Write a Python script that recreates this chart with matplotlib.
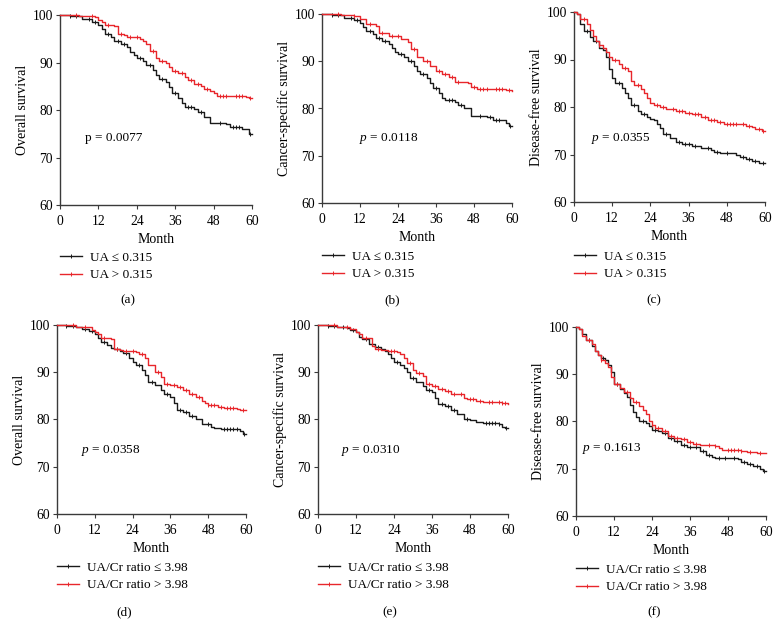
import numpy as np
import matplotlib
matplotlib.use("Agg")
import matplotlib.pyplot as plt
from matplotlib.lines import Line2D

plt.rcParams['font.family'] = ['Liberation Serif', 'DejaVu Serif']
plt.rcParams['mathtext.fontset'] = 'custom'
plt.rcParams['mathtext.it'] = 'Liberation Serif:italic'
plt.rcParams['mathtext.rm'] = 'Liberation Serif'

BLACK = '#1a1a1a'
RED = '#e8262b'

# ---------------- data (months, survival %) ----------------
# (a) Overall survival, UA
a_low_t = [0, 3, 7, 10, 12, 13, 14, 16, 17, 19, 21, 22, 23, 24, 26, 27, 29, 30, 31, 33, 34, 35, 37, 38, 39, 42, 43, 45, 47, 52, 53, 57, 59]
a_low_s = [100, 99.8, 99.2, 98.5, 98, 97, 96, 95.3, 94.5, 93.8, 93.2, 92.3, 91.5, 91, 90.3, 89.5, 88.5, 87.3, 86.5, 85.8, 84.8, 83.5, 82.5, 81.5, 80.6, 80.2, 79.6, 78.5, 77.3, 77, 76.5, 76, 75]
a_low_c = [3, 5, 9, 11, 15, 18, 20, 25, 28, 32, 36, 40, 41, 44, 50, 54, 55, 56, 59.5]
a_high_t = [0, 6, 11, 12, 13, 14, 17, 18, 20, 21, 25, 26, 27, 28, 30, 31, 33, 34, 35, 37, 39, 40, 42, 44, 45, 47, 48, 49, 58, 59]
a_high_s = [100, 99.7, 99.5, 99, 98.5, 97.8, 97.6, 96, 95.7, 95.3, 95, 94.5, 94, 92.5, 91, 90.4, 89.8, 89, 88.3, 87.8, 87, 86.3, 85.5, 85, 84.5, 84, 83.5, 83, 82.8, 82.5]
a_high_c = [5, 10, 15, 19, 22, 24, 29, 32, 36, 38, 41, 43, 46, 50, 51, 52, 55, 56, 57, 59.5]

# (b) Cancer-specific survival, UA
b_low_t = [0, 3, 7, 10, 12, 13, 14, 16, 17, 19, 21, 22, 23, 24, 26, 27, 29, 30, 31, 33, 34, 35, 37, 38, 39, 42, 43, 45, 47, 52, 54, 58, 59]
b_low_s = [100, 99.8, 99.2, 98.7, 98.2, 97.3, 96.5, 95.7, 95, 94.3, 93.7, 92.8, 92, 91.5, 90.8, 90, 89, 88, 87.3, 86.5, 85.5, 84.3, 83.2, 82.3, 81.7, 81.4, 80.8, 80, 78.5, 78.2, 77.6, 77, 76.3]
b_low_c = [3, 5, 9, 11, 15, 18, 20, 25, 28, 32, 36, 40, 41, 44, 50, 53, 55, 56, 59.5]
b_high_t = [0, 6, 10, 12, 14, 17, 18, 21, 25, 27, 28, 30, 32, 34, 36, 38, 40, 42, 46, 47, 49, 58, 60]
b_high_s = [100, 99.7, 99.5, 99, 97.8, 97.5, 96, 95.3, 94.8, 94, 92.5, 91, 90, 89, 88, 87.4, 86.6, 85.6, 85.3, 84.5, 84.2, 84, 83.8]
b_high_c = [5, 10, 15, 19, 22, 24, 29, 33, 37, 39, 41, 43, 48, 50, 51, 52, 55, 56, 57, 59]

# (c) Disease-free survival, UA
c_low_t = [0, 1, 2, 3, 5, 6, 8, 9, 10, 11, 12, 13, 15, 16, 17, 18, 20, 21, 23, 24, 25, 26, 27, 28, 30, 32, 34, 37, 40, 43, 44, 46, 51, 52, 54, 56, 58]
c_low_s = [100, 99.5, 97.5, 96, 94.8, 93.8, 92.5, 92, 90.5, 88, 86.2, 85, 84, 83, 82, 80.5, 79.2, 78.5, 78, 77.5, 77.2, 76.5, 75.5, 74.3, 73.5, 72.6, 72.2, 71.8, 71.3, 71, 70.6, 70.3, 70, 69.5, 69, 68.6, 68.2]
c_low_c = [4, 7, 14, 19, 22, 29, 33, 35, 36, 38, 42, 45, 48, 53, 55, 57, 59.5]
c_high_t = [0, 1, 2, 4, 5, 6, 7, 8, 9, 10, 11, 12, 14, 15, 17, 18, 19, 21, 22, 23, 24, 25, 27, 29, 32, 35, 37, 40, 42, 45, 47, 52, 54, 56, 57, 59]
c_high_s = [100, 99.5, 98.5, 97.5, 96.3, 95, 94, 93, 92.4, 91.5, 90.6, 89.8, 89, 88.3, 87.5, 85.5, 84.7, 83.8, 83, 81.8, 80.8, 80.5, 80, 79.5, 79.2, 78.8, 78.5, 78, 77.3, 76.8, 76.5, 76.4, 76, 75.7, 75.3, 75]
c_high_c = [3, 8, 13, 16, 20, 26, 28, 31, 33, 34, 36, 38, 39, 41, 43, 44, 46, 48, 49, 50, 51, 53, 55, 58, 59.5]

# (d) Overall survival, UA/Cr ratio
d_low_t = [0, 3, 6, 8, 10, 12, 13, 14, 16, 17, 18, 20, 21, 23, 24, 25, 27, 28, 29, 31, 33, 34, 36, 37, 38, 40, 42, 44, 46, 49, 50, 52, 58, 59]
d_low_s = [100, 99.8, 99.5, 99.2, 98.7, 98.2, 97.2, 96.5, 95.8, 95.2, 95, 94.5, 94, 93, 92.2, 91.5, 90.5, 89.5, 88, 87.3, 86.3, 85.5, 84.8, 83.5, 82, 81.5, 80.7, 80, 79, 78.5, 78.2, 78, 77.6, 77]
d_low_c = [3, 5, 9, 11, 15, 19, 22, 26, 30, 35, 39, 41, 43, 48, 53, 54, 55, 56, 57, 59.5]
d_high_t = [0, 6, 10, 11, 12, 13, 14, 17, 18, 20, 21, 25, 26, 28, 29, 31, 33, 34, 36, 38, 40, 42, 44, 46, 47, 48, 51, 53, 57, 58]
d_high_s = [100, 99.6, 99.5, 99, 98.6, 98, 97.3, 97, 95, 94.7, 94.5, 94.3, 93.8, 93, 91.5, 90, 89, 87.6, 87.2, 86.8, 86.2, 85.5, 84.8, 84, 83.5, 83.1, 82.7, 82.4, 82.2, 82]
d_high_c = [5, 9, 15, 19, 22, 24, 27, 32, 35, 37, 39, 41, 43, 45, 48, 49, 50, 52, 54, 55, 56, 59]

# (e) Cancer-specific survival, UA/Cr ratio
e_low_t = [0, 3, 6, 9, 10, 12, 13, 14, 16, 18, 20, 21, 22, 23, 24, 26, 27, 28, 29, 31, 33, 34, 36, 37, 38, 40, 42, 44, 46, 48, 50, 52, 57, 58, 59]
e_low_s = [100, 99.8, 99.5, 99.3, 99, 98.5, 97.5, 97, 96, 95.3, 95, 94.5, 93.8, 93, 92.2, 91.5, 91, 90, 88.7, 88, 87, 86.2, 85.8, 84.5, 83.2, 82.8, 82, 81.2, 80.2, 79.8, 79.5, 79.3, 79, 78.5, 78.2]
e_low_c = [3, 5, 8, 11, 15, 19, 25, 30, 35, 39, 41, 43, 47, 53, 54, 55, 56, 57, 59.5]
e_high_t = [0, 6, 10, 12, 13, 14, 16, 17, 18, 20, 22, 25, 26, 27, 28, 30, 31, 33, 34, 36, 38, 40, 42, 44, 46, 47, 50, 52, 56, 58, 60]
e_high_s = [100, 99.5, 99.2, 98.5, 98, 97.3, 97.2, 95.5, 95, 94.8, 94.5, 94.3, 93.8, 93, 92, 90.5, 89.8, 89.2, 87.5, 87, 86.5, 86, 85.4, 85.3, 84.5, 84.3, 84, 83.8, 83.6, 83.4, 83.2]
e_high_c = [5, 9, 15, 19, 23, 24, 29, 32, 35, 37, 39, 41, 43, 45, 48, 49, 51, 54, 55, 57, 58, 59]

# (f) Disease-free survival, UA/Cr ratio
f_low_t = [0, 1, 2, 3, 5, 6, 7, 8, 9, 10, 11, 12, 14, 15, 16, 17, 18, 19, 20, 22, 23, 24, 26, 27, 29, 31, 33, 35, 37, 39, 41, 43, 44, 49, 51, 52, 54, 56, 58, 59]
f_low_s = [100, 99.5, 98.5, 97.3, 96, 95, 94, 93.5, 93, 92, 90.5, 88, 86.8, 86, 85.2, 83.5, 82, 81, 80.2, 79.7, 79, 78.2, 78, 77.5, 76.5, 75.8, 75, 74.7, 74.5, 73.7, 73, 72.5, 72.3, 72.3, 72, 71.5, 71, 70.5, 70, 69.5]
f_low_c = [4, 8.5, 13, 21, 25, 28, 30, 32, 34, 36, 38, 40, 42, 45, 47, 50, 53, 55, 57, 59.5]
f_high_t = [0, 1, 2, 3, 5, 6, 7, 8, 9, 10, 11, 12, 14, 15, 17, 18, 20, 21, 22, 23, 24, 25, 27, 29, 31, 33, 35, 37, 39, 44, 45, 46, 52, 54, 57, 60]
f_high_s = [100, 99.5, 98.2, 97.3, 96.5, 95, 94, 93, 92.3, 91.5, 89.5, 88, 87, 86.3, 85, 84.2, 83.2, 82.5, 81.5, 80.2, 79.2, 78.7, 78, 77, 76.6, 76.2, 75.7, 75.3, 75, 74.9, 74.4, 74, 73.8, 73.6, 73.3, 73.3]
f_high_c = [4, 8, 13, 16, 19, 24, 26, 28, 30, 32, 34, 36, 38, 42, 44, 48, 49, 50, 51, 52, 55, 58]

ylabels = ['Overall survival', 'Cancer-specific survival', 'Disease-free survival',
           'Overall survival', 'Cancer-specific survival', 'Disease-free survival']
pvals = ['p = 0.0077', r'$p$ = 0.0118', r'$p$ = 0.0355',
         r'$p$ = 0.0358', r'$p$ = 0.0310', r'$p$ = 0.1613']
captions = ['(a)', '(b)', '(c)', '(d)', '(e)', '(f)']
legend_ua = ['UA ≤ 0.315', 'UA > 0.315']
legend_ratio = ['UA/Cr ratio ≤ 3.98', 'UA/Cr ratio > 3.98']
xticks = [0, 12, 24, 36, 48, 60]
yticks = [60, 70, 80, 90, 100]

curves = [
    ((a_low_t, a_low_s, a_low_c), (a_high_t, a_high_s, a_high_c)),
    ((b_low_t, b_low_s, b_low_c), (b_high_t, b_high_s, b_high_c)),
    ((c_low_t, c_low_s, c_low_c), (c_high_t, c_high_s, c_high_c)),
    ((d_low_t, d_low_s, d_low_c), (d_high_t, d_high_s, d_high_c)),
    ((e_low_t, e_low_s, e_low_c), (e_high_t, e_high_s, e_high_c)),
    ((f_low_t, f_low_s, f_low_c), (f_high_t, f_high_s, f_high_c)),
]

# ---------------- layout (pixels) ----------------
W, H = 782, 638
fig = plt.figure(figsize=(W / 100, H / 100), dpi=100)

# (left, right, top, bottom) in pixels
boxes = [
    (60, 252, 15, 205),
    (322, 512, 14, 203),
    (574, 765, 12, 202),
    (57, 246, 325, 514),
    (318, 508, 325, 514),
    (576, 766, 327, 516),
]
pv_pos = [(85, 138), (359, 138), (591, 138), (81, 451), (341, 451), (582, 448)]
leg_pos = [(60, 258), (322, 257), (574, 257), (57, 568), (318, 568), (576, 570)]
cap_pos = [(128, 300), (392, 300), (654, 300), (124, 612), (390, 612), (654, 612)]

SPINE = '#3a3a3a'
TICK_FS = 9.8
LAB_FS = 10
TXT_FS = 9

def km(ax, t, s, c, color):
    t = np.asarray(t, float)
    s = np.asarray(s, float)
    tt = np.append(t, 60 if t[-1] < 60 else t[-1])
    ss = np.append(s, s[-1])
    ax.step(tt, ss, where='post', color=color, lw=1.0, clip_on=False, zorder=3)
    c = np.asarray(c, float)
    idx = np.searchsorted(t, c, side='right') - 1
    ax.plot(c, s[idx], ls='none', marker='|', ms=3.2, mew=0.7, color=color, clip_on=False, zorder=3)

for i, (box, (low, high)) in enumerate(zip(boxes, curves)):
    l, r, t, b = box
    ax = fig.add_axes([l / W, 1 - b / H, (r - l) / W, (b - t) / H])
    km(ax, *low, BLACK)
    km(ax, *high, RED)
    ax.set_xlim(0, 60)
    ax.set_ylim(60, 100)
    ax.set_xticks(xticks)
    ax.set_yticks(yticks)
    for sp in ['top', 'right']:
        ax.spines[sp].set_visible(False)
    for sp in ['left', 'bottom']:
        ax.spines[sp].set_color(SPINE)
        ax.spines[sp].set_linewidth(1.0)
    ax.tick_params(direction='out', length=3, width=0.8, color=SPINE, labelsize=TICK_FS, pad=2)
    ax.tick_params(axis='x', pad=4)
    ax.set_xlabel('Month', fontsize=LAB_FS, labelpad=4)
    ax.set_ylabel(ylabels[i], fontsize=LAB_FS, labelpad=3)
    px, py = pv_pos[i]
    fig.text(px / W, 1 - py / H, pvals[i], fontsize=TXT_FS + 0.5, va='center', ha='left')
    labels = legend_ua if i < 3 else legend_ratio
    handles = [Line2D([0, 1, 2], [0, 0, 0], color=BLACK, lw=1.0, marker='|', ms=3.2, mew=0.7, markevery=[1]),
               Line2D([0, 1, 2], [0, 0, 0], color=RED, lw=1.0, marker='|', ms=3.2, mew=0.7, markevery=[1])]
    lx, ly = leg_pos[i]
    fig.legend(handles, labels, loc='center left', bbox_to_anchor=(lx / W, 1 - (ly + 8.5) / H),
               frameon=False, fontsize=TXT_FS + 0.5, handlelength=1.7, handletextpad=0.6,
               borderpad=0, borderaxespad=0, labelspacing=0.4)
    cx, cy = cap_pos[i]
    fig.text(cx / W, 1 - cy / H, captions[i], fontsize=TXT_FS + 0.5, ha='center', va='center')

fig.savefig('out.png', dpi=100)
